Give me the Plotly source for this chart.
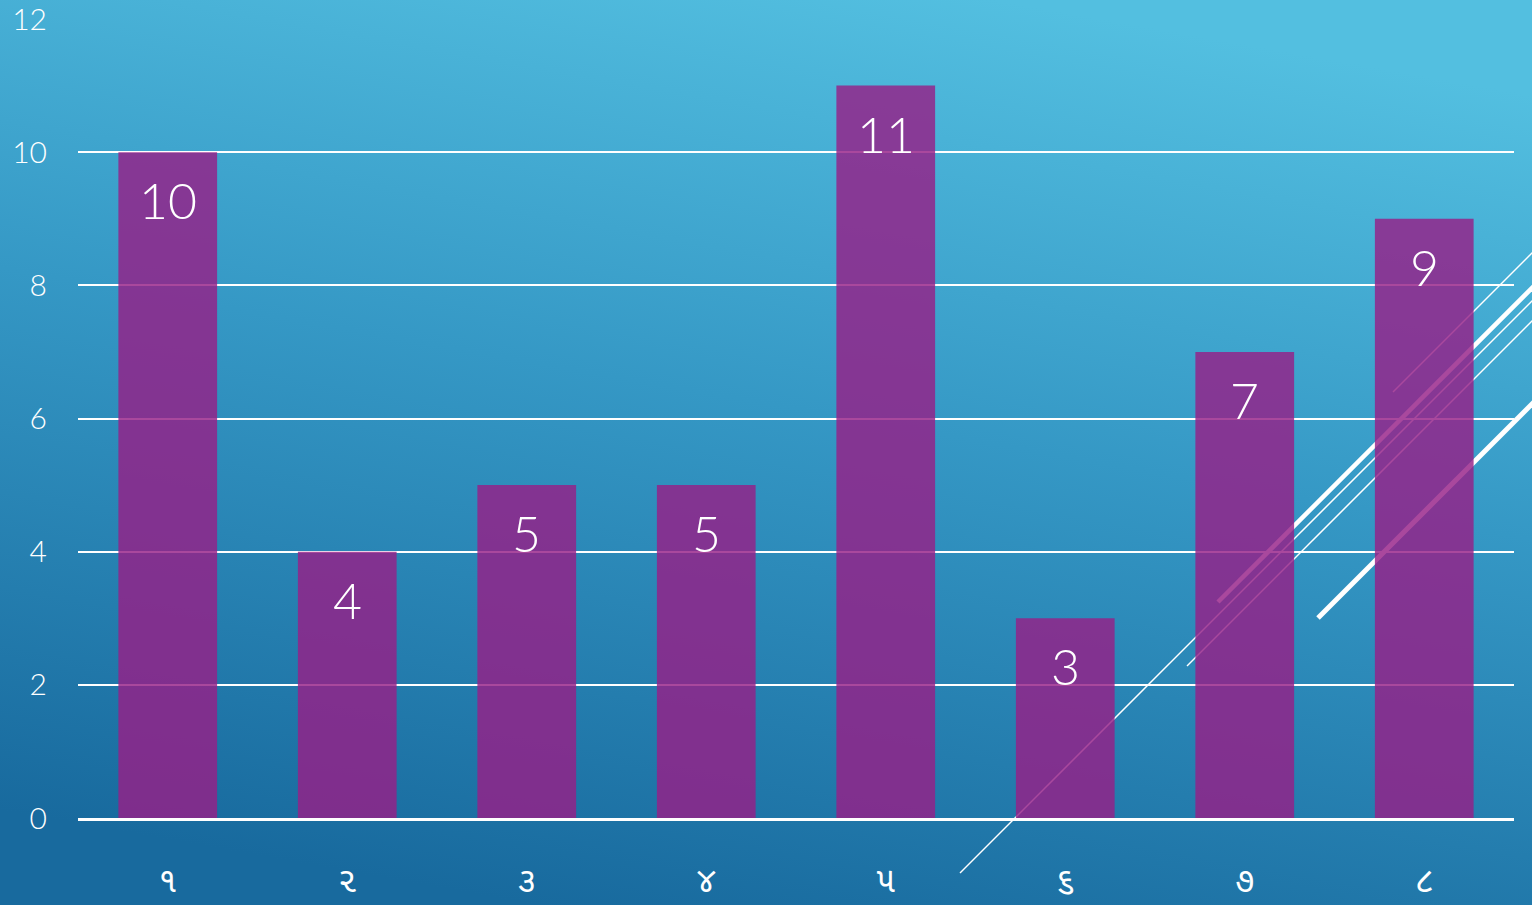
import base64
import plotly.graph_objects as go

# Bar chart with Gujarati category numerals on a blue gradient slide background

categories = ["૧", "૨", "૩", "૪", "૫", "૬", "૭", "૮"]
values = [10, 4, 5, 5, 11, 3, 7, 9]
y_ticks = [0, 2, 4, 6, 8, 10, 12]

W, H = 1532, 905
M = dict(l=78, r=18, t=19, b=87)
PW = W - M["l"] - M["r"]
PH = H - M["t"] - M["b"]


def px(x, y):
    # pixel position on the slide -> paper coords
    return (x - M["l"]) / PW, (H - M["b"] - y) / PH


# background gradient as an inline svg
svg = (
    '<svg xmlns="http://www.w3.org/2000/svg" width="100" height="100" preserveAspectRatio="none">'
    '<defs><linearGradient id="g" x1="0.35" y1="1" x2="0.65" y2="0">'
    '<stop offset="0" stop-color="#186a9e"/>'
    '<stop offset="0.55" stop-color="#3598c5"/>'
    '<stop offset="1" stop-color="#53bfe0"/>'
    "</linearGradient></defs>"
    '<rect width="100" height="100" fill="url(#g)"/></svg>'
)
bg_src = "data:image/svg+xml;base64," + base64.b64encode(svg.encode()).decode()

# decorative diagonal strokes (start px, end px, width)
strokes = [
    ((960, 873), (1540, 293), 1.5),
    ((1218, 602), (1540, 280), 4.5),
    ((1187, 666), (1540, 313), 1.5),
    ((1318, 618), (1540, 396), 5),
    ((1393, 392), (1540, 245), 1.5),
]

fig = go.Figure()
fig.add_trace(go.Bar(
    x=categories,
    y=values,
    marker=dict(color="rgba(150,32,135,0.82)", line=dict(width=0)),
    width=0.55,
    hoverinfo="x+y",
))

for c, v in zip(categories, values):
    fig.add_annotation(
        x=c, y=v, text=str(v), showarrow=False, yanchor="top", yshift=-16,
        font=dict(size=50, color="white", family="Lato", weight=300),
    )

shapes = []
for (x0, y0), (x1, y1), w in strokes:
    a0, b0 = px(x0, y0)
    a1, b1 = px(x1, y1)
    shapes.append(dict(
        type="line", xref="paper", yref="paper", x0=a0, y0=b0, x1=a1, y1=b1,
        line=dict(color="white", width=w), layer="below",
    ))

fig.update_layout(
    width=W,
    height=H,
    margin=M,
    paper_bgcolor="#2b85b6",
    plot_bgcolor="rgba(0,0,0,0)",
    showlegend=False,
    font=dict(family="Lato", color="white"),
    shapes=shapes,
    images=[dict(
        source=bg_src, xref="paper", yref="paper",
        x=-M["l"] / PW, y=1 + M["t"] / PH,
        sizex=W / PW, sizey=H / PH,
        sizing="stretch", xanchor="left", yanchor="top", layer="below",
    )],
    xaxis=dict(
        type="category",
        range=[-0.5, 7.5],
        automargin=False,
        showgrid=False,
        showline=True,
        linecolor="white",
        linewidth=2.5,
        ticks="",
        ticklabelstandoff=30,
        ticklabeloverflow="allow",
        tickfont=dict(size=34, color="white", family="Noto Sans Gujarati, Noto Sans"),
    ),
    yaxis=dict(
        range=[0, 12],
        tickvals=y_ticks,
        automargin=False,
        showgrid=True,
        gridcolor="white",
        gridwidth=1.5,
        zeroline=False,
        ticks="",
        ticklabelstandoff=30,
        ticklabeloverflow="allow",
        tickfont=dict(size=30, color="white", family="Lato", weight=300),
    ),
)

fig.write_html(
    "out.html",
    config={"displayModeBar": False},
    post_script="document.body.style.margin='0';",
)
